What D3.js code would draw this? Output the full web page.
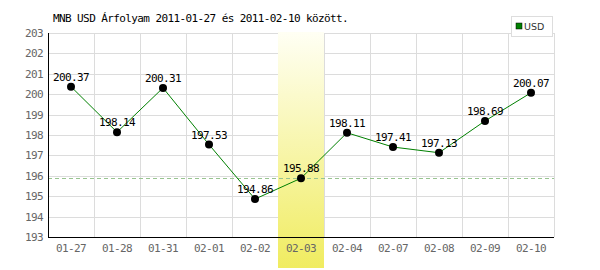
<!DOCTYPE html>
<html><head><meta charset="utf-8">
<script src="https://cdn.jsdelivr.net/npm/d3@7"></script>
<style>body{margin:0;background:#fff}svg{display:block}</style>
</head><body><svg id="c" width="600" height="270"></svg>
<script>
const categories = ["01-27","01-28","01-31","02-01","02-02","02-03","02-04","02-07","02-08","02-09","02-10"];
const values = [200.37,198.14,200.31,197.53,194.86,195.88,198.11,197.41,197.13,198.69,200.07];
const yTicks = [193,194,195,196,197,198,199,200,201,202,203];
const highlight = "02-03";
const refValue = 195.88;
const title = "MNB USD Árfolyam 2011-01-27 és 2011-02-10 között.";
const seriesName = "USD";

const svg = d3.select("#c");
const L=48,R=554,T=33,B=237;
const x = d3.scaleBand().domain(categories).range([L,R]);
const y = d3.scaleLinear().domain([193,203]).range([B,T]);
const mono = "'DejaVu Sans Mono', monospace";
const ls = "-0.6px";

const defs = svg.append("defs");
const g = defs.append("linearGradient").attr("id","hg").attr("x1",0).attr("y1",0).attr("x2",0).attr("y2",1);
g.append("stop").attr("offset","0%").attr("stop-color","#fffff4");
g.append("stop").attr("offset","100%").attr("stop-color","#f0ec60");

// grid
svg.append("g").selectAll("line").data(yTicks).join("line")
  .attr("x1",L).attr("x2",R).attr("y1",d=>Math.round(y(d))+0.5).attr("y2",d=>Math.round(y(d))+0.5)
  .attr("stroke","#dcdcdc");
svg.append("g").selectAll("line").data(categories.slice(1).concat(["end"])).join("line")
  .attr("x1",(d,i)=>Math.round(L+x.step()*(i+1))+0.5).attr("x2",(d,i)=>Math.round(L+x.step()*(i+1))+0.5)
  .attr("y1",T).attr("y2",B).attr("stroke","#dcdcdc");

// highlight band
svg.append("rect").attr("x",x(highlight)).attr("width",x.bandwidth())
  .attr("y",T-1).attr("height",268-T+1).attr("fill","url(#hg)");

// reference dashed line
svg.append("line").attr("x1",L).attr("x2",R).attr("y1",Math.round(y(refValue))+0.5).attr("y2",Math.round(y(refValue))+0.5)
  .attr("stroke","#98c490").attr("stroke-dasharray","4,3");

// axes lines
svg.append("line").attr("x1",L+0.5).attr("x2",L+0.5).attr("y1",T).attr("y2",B+1).attr("stroke","#000");
svg.append("line").attr("x1",L).attr("x2",R).attr("y1",B+0.5).attr("y2",B+0.5).attr("stroke","#000");

// y labels
svg.append("g").selectAll("text").data(yTicks).join("text")
  .attr("x",L-5).attr("y",d=>y(d)+4).attr("text-anchor","end").style("letter-spacing",ls)
  .attr("font-family",mono).attr("font-size",11).attr("fill","#666").text(d=>d);
// x labels
svg.append("g").selectAll("text").data(categories).join("text")
  .attr("x",d=>x(d)+x.bandwidth()/2).attr("y",252).attr("text-anchor","middle").style("letter-spacing",ls)
  .attr("font-family",mono).attr("font-size",11).attr("fill","#666").text(d=>d);

// line
const line = d3.line().x((d,i)=>x(categories[i])+x.bandwidth()/2).y(d=>y(d));
svg.append("path").datum(values).attr("d",line).attr("fill","none").attr("stroke","#008000").attr("stroke-width",1);
svg.append("g").selectAll("circle").data(values).join("circle")
  .attr("cx",(d,i)=>x(categories[i])+x.bandwidth()/2).attr("cy",d=>y(d)).attr("r",4).attr("fill","#000");
svg.append("g").selectAll("text").data(values).join("text")
  .attr("x",(d,i)=>x(categories[i])+x.bandwidth()/2).attr("y",d=>y(d)-6).attr("text-anchor","middle").style("letter-spacing",ls)
  .attr("font-family",mono).attr("font-size",11).attr("fill","#000").text(d=>d.toFixed(2));

// title
svg.append("text").attr("x",53).attr("y",22).attr("font-family",mono).attr("font-size",11).style("letter-spacing",ls).attr("fill","#000").text(title);

// legend
svg.append("rect").attr("x",511.5).attr("y",16.5).attr("width",41).attr("height",20).attr("fill","#fff").attr("stroke","#ddd");
svg.append("rect").attr("x",516).attr("y",23).attr("width",6).attr("height",6).attr("fill","#008000").attr("stroke","#000").attr("stroke-width",0.5);
svg.append("text").attr("x",524).attr("y",30).attr("font-family","'DejaVu Sans', sans-serif").attr("font-size",9.5).attr("fill","#333").text(seriesName);
</script></body></html>
